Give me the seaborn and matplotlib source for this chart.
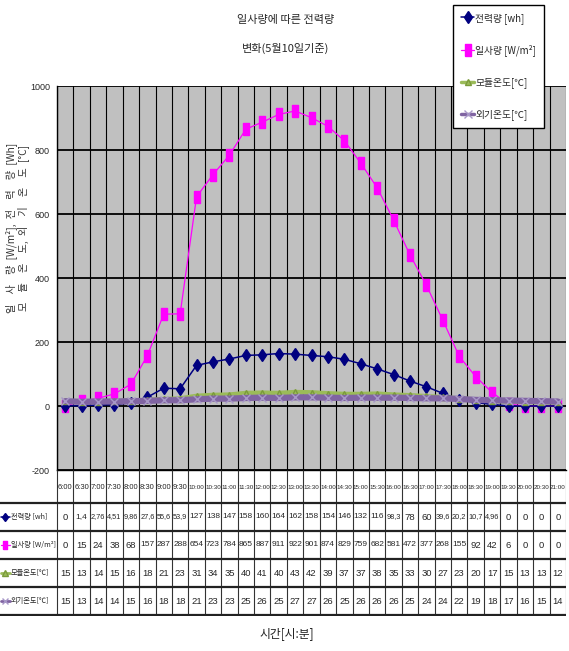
import numpy as np
import pandas as pd
import matplotlib
matplotlib.use("Agg")
import matplotlib.pyplot as plt
import seaborn as sns
from matplotlib.lines import Line2D

# ---------------- data ----------------
times = ["6:00", "6:30", "7:00", "7:30", "8:00", "8:30", "9:00", "9:30", "10:00", "10:30",
         "11:00", "11:30", "12:00", "12:30", "13:00", "13:30", "14:00", "14:30", "15:00", "15:30",
         "16:00", "16:30", "17:00", "17:30", "18:00", "18:30", "19:00", "19:30", "20:00", "20:30", "21:00"]
power = [0, 1.4, 2.76, 4.51, 9.86, 27.6, 55.6, 53.9, 127, 138, 147, 158, 160, 164,
         162, 158, 154, 146, 132, 116, 98.3, 78, 60, 39.6, 20.2, 10.7, 4.96, 0, 0, 0, 0]
irradiance = [0, 15, 24, 38, 68, 157, 287, 288, 654, 723, 784, 865, 887, 911,
              922, 901, 874, 829, 759, 682, 581, 472, 377, 268, 155, 92, 42, 6, 0, 0, 0]
module_temp = [15, 13, 14, 15, 16, 18, 21, 23, 31, 34, 35, 40, 41, 40,
               43, 42, 39, 37, 37, 38, 35, 33, 30, 27, 23, 20, 17, 15, 13, 13, 12]
outside_temp = [15, 13, 14, 14, 15, 16, 18, 18, 21, 23, 23, 25, 26, 25,
                27, 27, 26, 25, 26, 26, 26, 25, 24, 24, 22, 19, 18, 17, 16, 15, 14]
series_labels = ["전력량 [wh]", "일사량 [W/m²]", "모듈온도[℃]", "외기온도[℃]"]
title_lines = ["일사량에 따른 전력량", "변화(5월10일기준)"]
ylabel = ("일\u3000사\u3000량\u2002[W/m²],\u2002전\u3000력\u3000량\u2002[Wh]\n"
          "모\u3000듈\u3000온\u3000도,\u2002외\u3000기\u3000온\u3000도\u2002[°C]")
xlabel = "시간[시:분]"
yticks = [-200, 0, 200, 400, 600, 800, 1000]

# ---------------- style ----------------
sns.set_style("white")
KR = ["Noto Sans CJK KR", "DejaVu Sans"]
NUM = ["Liberation Sans", "DejaVu Sans"]
plt.rcParams["font.family"] = KR
plt.rcParams["axes.unicode_minus"] = False

W, H = 569, 651
fig = plt.figure(figsize=(W / 100, H / 100), dpi=100)
fig.patch.set_facecolor("white")


def px_box(x0, y0, x1, y1):
    return [x0 / W, 1 - y1 / H, (x1 - x0) / W, (y1 - y0) / H]


PL, PR, PT, PB = 57, 566, 86, 470
ax = fig.add_axes(px_box(PL, PT, PR, PB))
ax.set_facecolor("#C0C0C0")

df = pd.DataFrame({"pos": np.arange(len(times)), "power": power, "irr": irradiance,
                   "mod": module_temp, "out": outside_temp})

rect_marker = [(-0.55, -1), (0.55, -1), (0.55, 1), (-0.55, 1), (-0.55, -1)]
styles = {
    "power": dict(color="#000080", lw=1.1, marker="d", ms=6, mfc="#000080", mec="#000080", z=4),
    "irr": dict(color="#FF00FF", lw=0.9, marker=rect_marker, ms=8, mfc="#FF00FF", mec="#FF00FF", z=3),
    "mod": dict(color="#9BBB59", lw=3.5, marker="^", ms=5, mfc="#9BBB59", mec="#7A9A3A", z=5),
    "out": dict(color="#8064A2", lw=4.5, marker="x", ms=6, mfc="#A898C8", mec="#A898C8", z=6),
}
for col in ["power", "irr", "mod", "out"]:
    s = styles[col]
    sns.lineplot(data=df, x="pos", y=col, ax=ax, color=s["color"], linewidth=s["lw"],
                 marker=s["marker"], markersize=s["ms"], markerfacecolor=s["mfc"],
                 markeredgecolor=s["mec"], markeredgewidth=1, zorder=s["z"],
                 legend=False, sort=False, clip_on=False)

n = len(times)
ax.set_xlim(-0.5, n - 0.5)
ax.set_ylim(-200, 1000)
ax.set_yticks(yticks)
ax.set_yticklabels([str(v) for v in yticks], family=NUM, fontsize=6.5)
ax.set_xticks([])
ax.set_xticks(np.arange(-0.5, n, 1), minor=True)
ax.tick_params(axis="x", which="both", length=0, labelbottom=False)
ax.tick_params(axis="y", direction="inout", length=6, width=1, color="black", pad=2)
ax.yaxis.grid(True, color="black", lw=1.3, zorder=1)
ax.xaxis.grid(True, which="minor", color="black", lw=0.8, zorder=1)
ax.set_axisbelow(True)
ax.set_xlabel("")
ax.set_ylabel("")
for side in ["top", "right"]:
    ax.spines[side].set_visible(False)
for side in ["left", "bottom"]:
    ax.spines[side].set_color("black")
    ax.spines[side].set_linewidth(1)

# ---------------- titles / labels ----------------
fig.text(286 / W, 1 - 20 / H, title_lines[0], ha="center", va="center", fontsize=8, family=KR)
fig.text(286 / W, 1 - 48 / H, title_lines[1], ha="center", va="center", fontsize=8, family=KR)
fig.text(17 / W, 1 - 228 / H, ylabel, ha="center", va="center", rotation=90, fontsize=7.3,
         family=KR, linespacing=0.98, color="#333333")
fig.text(287 / W, 1 - 634 / H, xlabel, ha="center", va="center", fontsize=8.5, family=KR,
         color="#222222")

# ---------------- legend ----------------
handles = []
for col in ["power", "irr", "mod", "out"]:
    s = styles[col]
    handles.append(Line2D([], [], color=s["color"], lw=min(s["lw"], 2.5), marker=s["marker"],
                          markersize=s["ms"], markerfacecolor=s["mfc"], markeredgecolor=s["mec"]))
leg = fig.legend(handles, series_labels, loc="upper right", bbox_to_anchor=(544 / W, 1 - 5 / H),
                 frameon=True, fancybox=False, edgecolor="black", framealpha=1,
                 prop={"family": KR, "size": 7}, labelspacing=2.15, handlelength=1.3,
                 handletextpad=0.15, borderpad=0.8, borderaxespad=0)
leg.get_frame().set_linewidth(1)

# ---------------- data table ----------------
TT, TB = 470, 616
tax = fig.add_axes(px_box(0, TT, PR, TB))
wcat = (PR - PL) / n
tax.set_xlim(-0.5 - PL / wcat, n - 0.5)
tax.set_ylim(TB, TT)
tax.axis("off")

row_edges = [TT, 503, 531, 559, 587, 615]
row_centers = [(row_edges[i] + row_edges[i + 1]) / 2 for i in range(len(row_edges) - 1)]
left_x = -0.5 - PL / wcat
for i in range(n + 1):
    tax.vlines(i - 0.5, TT, row_edges[-1], color="#333333", lw=0.8)
for yv in row_edges[1:]:
    tax.hlines(yv, left_x, n - 0.5, color="#222222", lw=1.6)


def fmt(v):
    if float(v).is_integer():
        return str(int(v))
    return str(v).replace(".", ",")


for i, t in enumerate(times):
    tax.text(i, row_centers[0] + 1, t, ha="center", va="center", fontsize=4.5 if len(t) > 4 else 5.5,
             family=NUM)
rows = [power, irradiance, module_temp, outside_temp]
for r, (vals, col) in enumerate(zip(rows, ["power", "irr", "mod", "out"])):
    yc = row_centers[r + 1]
    for i, v in enumerate(vals):
        s_ = fmt(v)
        sz = 6.8 if len(s_) <= 2 else (6.0 if len(s_) == 3 else 5.3)
        tax.text(i, yc, s_, ha="center", va="center", fontsize=sz, family=NUM)
    s = styles[col]
    x0 = left_x + 1 / wcat
    x1 = left_x + 10 / wcat
    tax.plot([x0, x1], [yc, yc], color=s["color"], lw=min(s["lw"], 2.0), clip_on=False)
    tax.plot([(x0 + x1) / 2], [yc], marker=s["marker"], ms=s["ms"] * 0.75, mfc=s["mfc"],
             mec=s["mec"], color=s["color"], clip_on=False)
    tax.text(left_x + 11 / wcat, yc, series_labels[r], ha="left", va="center", fontsize=5.2,
             family=KR)

fig.savefig("out.png", dpi=100, facecolor="white")
